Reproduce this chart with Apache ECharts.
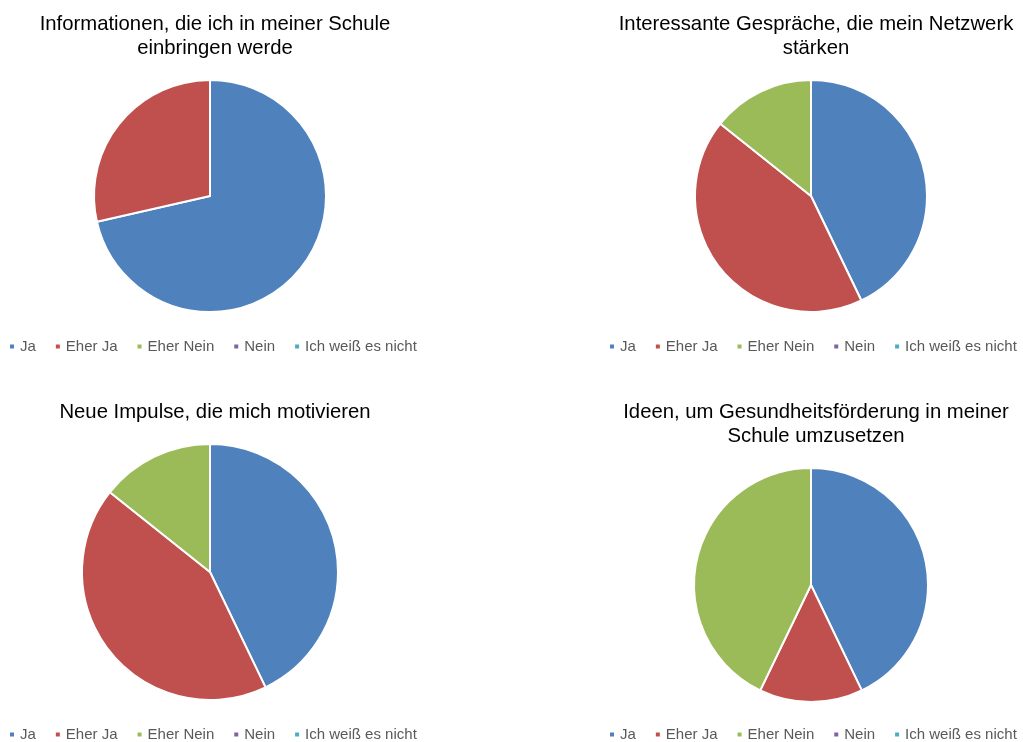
<!DOCTYPE html>
<html>
<head>
<meta charset="utf-8">
<script src="https://cdn.jsdelivr.net/npm/echarts@6/dist/echarts.min.js"></script>
<style>
  html, body { margin: 0; padding: 0; background: #fff; }
  #main { width: 1023px; height: 742px; }
</style>
</head>
<body>
<div id="main"></div>
<script>
var categories = ['Ja', 'Eher Ja', 'Eher Nein', 'Nein', 'Ich weiß es nicht'];
var colors = ['#4F81BD', '#C0504D', '#9BBB59', '#8064A2', '#4BACC6'];

var titles = [
  'Informationen, die ich in meiner Schule\neinbringen werde',
  'Interessante Gespräche, die mein Netzwerk\nstärken',
  'Neue Impulse, die mich motivieren',
  'Ideen, um Gesundheitsförderung in meiner\nSchule umzusetzen'
];

// antworten pro frage (Ja, Eher Ja, Eher Nein, Nein, Ich weiß es nicht)
var info = [5, 2, 0, 0, 0];
var gespraeche = [3, 3, 1, 0, 0];
var impulse = [3, 3, 1, 0, 0];
var ideen = [3, 1, 3, 0, 0];
var allValues = [info, gespraeche, impulse, ideen];

// layout pro chart: titel x/y, pie mitte, radius, legende x/y
var centers = [[210, 196], [811, 196], [210, 572], [811, 585]];
var radii = [116, 116, 128, 117];
var titleX = [210, 811, 210, 811];
var titleY = [7, 7, 395, 395];
var legendX = [3, 603, 3, 603];
var legendY = [334, 334, 722, 722];

var chart = echarts.init(document.getElementById('main'));

var title = [];
var legend = [];
var series = [];

for (var i = 0; i < 4; i++) {
  title.push({
    text: titles[i],
    left: titleX[i],
    top: titleY[i],
    textAlign: 'center',
    textStyle: {
      fontFamily: 'Liberation Sans, Arial, sans-serif',
      fontSize: 20.3,
      fontWeight: 'normal',
      color: '#000',
      lineHeight: 24
    }
  });
  legend.push({
    data: categories,
    left: legendX[i],
    top: legendY[i],
    icon: 'rect',
    itemWidth: 6,
    itemHeight: 6,
    itemGap: 18,
    textStyle: {
      fontFamily: 'Liberation Sans, Arial, sans-serif',
      fontSize: 15,
      color: '#595959'
    }
  });
  var vals = allValues[i];
  series.push({
    type: 'pie',
    center: centers[i],
    radius: radii[i],
    startAngle: 90,
    clockwise: true,
    label: { show: false },
    labelLine: { show: false },
    emphasis: { disabled: true },
    itemStyle: { borderColor: '#fff', borderWidth: 2 },
    data: categories.map(function (c, k) {
      return { name: c, value: vals[k] };
    })
  });
}

chart.setOption({
  animation: false,
  color: colors,
  title: title,
  legend: legend,
  series: series
});
</script>
</body>
</html>
